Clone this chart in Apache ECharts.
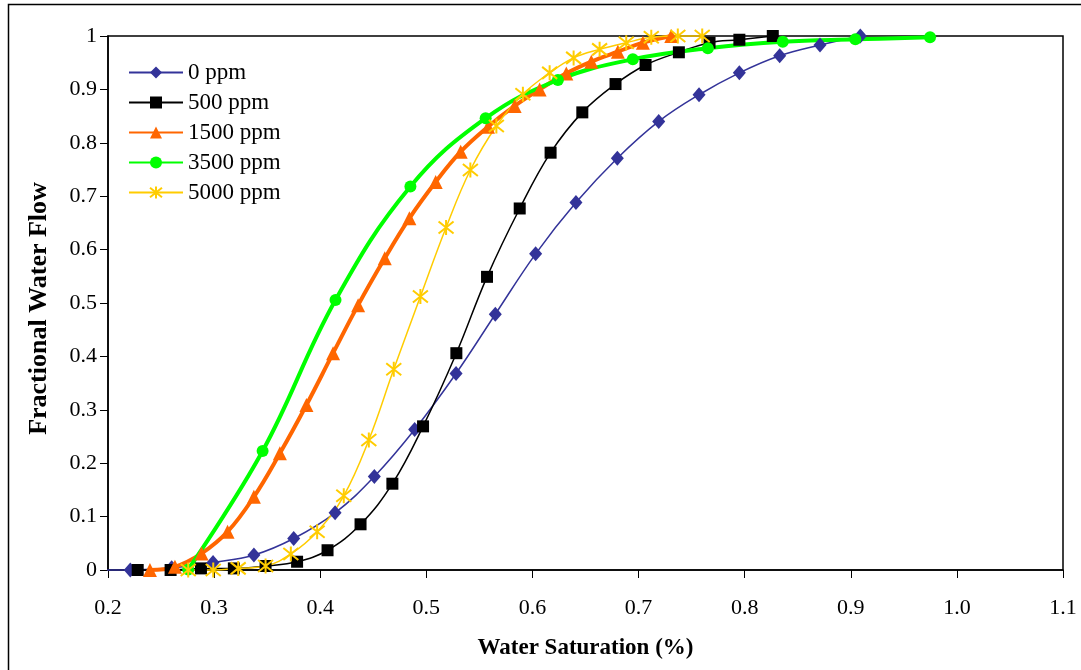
<!DOCTYPE html>
<html>
<head>
<meta charset="utf-8">
<script src="https://cdn.jsdelivr.net/npm/echarts@6/dist/echarts.min.js"></script>
<style>
html,body{margin:0;padding:0;background:#fff;}
#chart{width:1081px;height:670px;}
</style>
</head>
<body>
<div id="chart"></div>
<script>
// ---- data ----
var seriesNames = ['0 ppm', '500 ppm', '1500 ppm', '3500 ppm', '5000 ppm'];

var sw0 = [0.195, 0.221, 0.260, 0.299, 0.3375, 0.375, 0.414, 0.451, 0.489, 0.528, 0.565, 0.603, 0.641, 0.680, 0.719, 0.757, 0.795, 0.833, 0.871, 0.909];
var fw0 = [0, 0, 0.004, 0.014, 0.028, 0.059, 0.107, 0.175, 0.263, 0.368, 0.479, 0.592, 0.688, 0.771, 0.840, 0.890, 0.931, 0.963, 0.983, 1.0];

var sw500 = [0.228, 0.259, 0.2876, 0.3186, 0.3485, 0.3782, 0.4069, 0.438, 0.468, 0.4969, 0.5283, 0.5572, 0.588, 0.6171, 0.647, 0.6783, 0.7066, 0.738, 0.7669, 0.795, 0.8265];
var fw500 = [0, 0, 0.003, 0.003, 0.0075, 0.0155, 0.037, 0.0856, 0.1616, 0.269, 0.406, 0.549, 0.677, 0.7815, 0.857, 0.910, 0.9457, 0.9695, 0.9875, 0.993, 1.0];

var sw1500 = [0.2395, 0.2631, 0.2882, 0.3127, 0.3375, 0.362, 0.387, 0.4121, 0.4357, 0.4608, 0.484, 0.5088, 0.5324, 0.5581, 0.5832, 0.6068, 0.6319, 0.6555, 0.6805, 0.7041, 0.7308];
var fw1500 = [0, 0.006, 0.031, 0.0717, 0.137, 0.2185, 0.309, 0.406, 0.496, 0.5837, 0.6586, 0.7266, 0.7833, 0.830, 0.869, 0.900, 0.930, 0.952, 0.9706, 0.9875, 1.0];

var sw3500 = [0.2756, 0.3457, 0.4144, 0.485, 0.5559, 0.624, 0.6946, 0.7653, 0.8359, 0.9043, 0.9747];
var fw3500 = [0.001, 0.2228, 0.5056, 0.718, 0.846, 0.9176, 0.9564, 0.977, 0.9893, 0.9938, 0.9975];

var sw5000 = [0.2756, 0.2992, 0.3227, 0.3485, 0.3723, 0.3971, 0.4222, 0.4458, 0.4693, 0.4944, 0.5186, 0.5415, 0.566, 0.591, 0.6162, 0.6388, 0.6633, 0.6884, 0.712, 0.737, 0.76];
var fw5000 = [0, 0, 0.003, 0.0075, 0.030, 0.0717, 0.139, 0.2434, 0.3758, 0.512, 0.6414, 0.749, 0.8315, 0.891, 0.931, 0.959, 0.975, 0.9875, 0.9975, 1.0, 1.0];

var xTicks = ['0.2','0.3','0.4','0.5','0.6','0.7','0.8','0.9','1.0','1.1'];
var yTicks = ['0','0.1','0.2','0.3','0.4','0.5','0.6','0.7','0.8','0.9','1'];

// ---- styles ----
var FONT = '"Liberation Serif", "Times New Roman", serif';
var STAR = 'path://M0,-1L0,1M-0.8,-0.8L0.8,0.8M-0.8,0.8L0.8,-0.8';

function pairs(xs, ys, hideFirst) {
  return xs.map(function (x, i) {
    if (hideFirst && i === 0) return { value: [x, ys[i]], symbol: 'none' };
    return [x, ys[i]];
  });
}

function mk(name, xs, ys, color, width, symbol, size, hideFirst, extra) {
  var s = {
    name: name,
    type: 'line',
    data: pairs(xs, ys, hideFirst),
    smooth: 0.4,
    clip: false,
    symbol: symbol,
    symbolSize: size,
    showAllSymbol: true,
    lineStyle: { color: color, width: width },
    itemStyle: { color: color, borderColor: color, borderWidth: 0 },
    emphasis: { disabled: true },
    animation: false,
    z: 2
  };
  if (extra) for (var k in extra) s[k] = extra[k];
  return s;
}

var chart = echarts.init(document.getElementById('chart'), null, { renderer: 'canvas' });

var option = {
  backgroundColor: '#ffffff',
  animation: false,
  textStyle: { fontFamily: FONT, color: '#000' },
  graphic: [{
    type: 'rect',
    shape: { x: 8.5, y: 4.5, width: 1200, height: 1000 },
    style: { fill: 'none', stroke: '#000', lineWidth: 1.5 },
    silent: true
  }],
  grid: {
    left: 108, right: 18, top: 36, bottom: 100,
    show: true, borderColor: '#000', borderWidth: 1.5, backgroundColor: 'transparent'
  },
  legend: {
    orient: 'vertical',
    left: 128, top: 61, padding: 0,
    itemWidth: 54, itemHeight: 15, itemGap: 7,
    data: seriesNames,
    textStyle: { fontFamily: FONT, fontSize: 23, color: '#000', lineHeight: 22 },
    selectedMode: false
  },
  xAxis: {
    type: 'value',
    min: 0.2, max: 1.1, interval: 0.1,
    name: 'Water Saturation (%)',
    nameLocation: 'middle',
    nameGap: 67,
    nameTextStyle: { fontFamily: FONT, fontSize: 23, fontWeight: 'bold', color: '#000' },
    axisLine: { show: true, onZero: false, lineStyle: { color: '#000', width: 1.5 } },
    axisTick: { show: true, inside: false, length: 8, lineStyle: { color: '#000', width: 1 } },
    axisLabel: {
      margin: 27, fontFamily: FONT, fontSize: 22, color: '#000',
      formatter: function (v) { return xTicks[Math.round((v - 0.2) * 10)]; }
    },
    splitLine: { show: false }
  },
  yAxis: {
    type: 'value',
    min: 0, max: 1, interval: 0.1,
    name: 'Fractional Water Flow',
    nameLocation: 'middle',
    nameGap: 56,
    nameTextStyle: { fontFamily: FONT, fontSize: 26, fontWeight: 'bold', color: '#000', padding: [0, 11, 0, 0] },
    axisLine: { show: true, onZero: false, lineStyle: { color: '#000', width: 1.5 } },
    axisTick: { show: true, inside: false, length: 8, lineStyle: { color: '#000', width: 1 } },
    axisLabel: {
      margin: 11, fontFamily: FONT, fontSize: 22, color: '#000',
      formatter: function (v) { return yTicks[Math.round(v * 10)]; }
    },
    splitLine: { show: false }
  },
  series: [
    mk(seriesNames[0], sw0, fw0, '#333399', 1.5, 'diamond', [13, 15], true),
    mk(seriesNames[1], sw500, fw500, '#000000', 1.5, 'rect', 12, false),
    mk(seriesNames[2], sw1500, fw1500, '#FF6600', 4, 'triangle', 14, false),
    mk(seriesNames[3], sw3500, fw3500, '#00FF00', 4, 'circle', 12, false),
    mk(seriesNames[4], sw5000, fw5000, '#FFCC00', 1.5, STAR, 15, false,
       { itemStyle: { color: '#FFCC00', borderColor: '#FFCC00', borderWidth: 2 } })
  ]
};

chart.setOption(option);
</script>
</body>
</html>
